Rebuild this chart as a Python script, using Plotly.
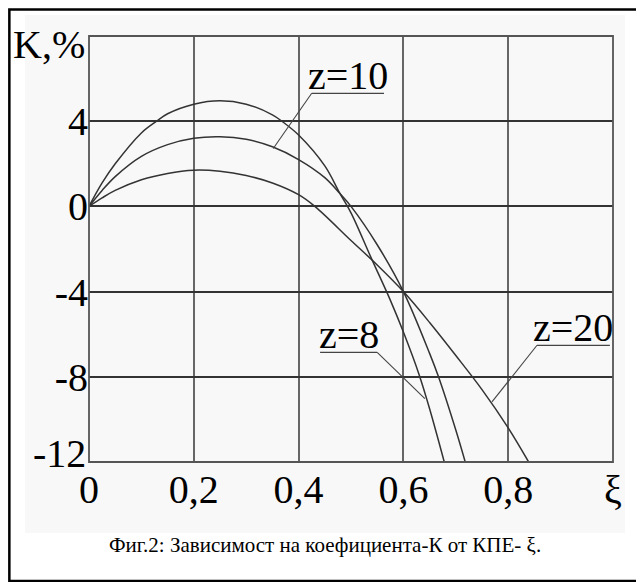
import plotly.graph_objects as go

# ---- data ----
xi_z8 = [0, 0.025, 0.05, 0.10, 0.129, 0.15, 0.20, 0.25, 0.30, 0.35, 0.368, 0.40, 0.45, 0.479, 0.50, 0.54, 0.575, 0.60, 0.63, 0.65, 0.678]
k_z8 = [0, 1.1, 2.0, 3.45, 4.0, 4.35, 4.8, 4.96, 4.8, 4.3, 4.0, 3.35, 1.9, 0.6, -0.3, -2.5, -4.4, -5.9, -7.9, -9.5, -12]

xi_z10 = [0, 0.025, 0.05, 0.10, 0.15, 0.20, 0.25, 0.30, 0.35, 0.40, 0.45, 0.479, 0.50, 0.55, 0.60, 0.65, 0.667, 0.70, 0.718]
k_z10 = [0, 0.75, 1.4, 2.35, 2.9, 3.2, 3.27, 3.15, 2.8, 2.2, 1.35, 0.6, 0.0, -1.8, -4.0, -6.9, -8.0, -10.5, -12]

xi_z20 = [0, 0.025, 0.05, 0.10, 0.15, 0.20, 0.25, 0.30, 0.35, 0.40, 0.431, 0.50, 0.55, 0.60, 0.65, 0.70, 0.75, 0.80, 0.839]
k_z20 = [0, 0.4, 0.75, 1.25, 1.55, 1.7, 1.65, 1.45, 1.1, 0.55, 0.0, -1.6, -2.75, -4.0, -5.45, -7.0, -8.6, -10.4, -12]

series_names = ["z=8", "z=10", "z=20"]

x_tickvals = [0, 0.2, 0.4, 0.6, 0.8, 1.0]
x_ticktext = ["0", "0,2", "0,4", "0,6", "0,8", "ξ"]
y_tickvals = [-12, -8, -4, 0, 4]
y_ticktext = ["-12", "-8", "-4", "0", "4"]
y_title = "K,%"
caption = "Фиг.2: Зависимост на коефициента-К от КПЕ- ξ."

FONT = "Liberation Serif"
BIG = 40
LINE = "#333333"

fig = go.Figure()
for xs, ks, nm in [(xi_z8, k_z8, series_names[0]), (xi_z10, k_z10, series_names[1]), (xi_z20, k_z20, series_names[2])]:
    fig.add_trace(go.Scatter(x=xs, y=ks, mode="lines", name=nm,
                             line=dict(color=LINE, width=1.5, shape="spline", smoothing=1.0),
                             showlegend=False, hoverinfo="skip"))

shapes = []
# faint background of the embedded picture and the outer frame
shapes.append(dict(type="rect", xref="paper", yref="paper", x0=-0.1221, x1=1.0229, y0=-0.1667, y1=1.0493,
                   fillcolor="#f8f8f8", line=dict(width=0), layer="below"))
shapes.append(dict(type="rect", xref="paper", yref="paper", x0=-0.1520, x1=1.0706, y0=-0.2793, y1=1.0625,
                   fillcolor="rgba(0,0,0,0)", line=dict(color="black", width=2.5), layer="above"))
# plot border
shapes.append(dict(type="rect", xref="paper", yref="paper", x0=0, x1=1, y0=0, y1=1,
                   line=dict(color="#555555", width=1.8), layer="above"))

# label underlines and leaders: (text, underline x0, x1, y, leader end x, y, leader side)
labels = [
    ("z=10", 0.425, 0.563, 5.31, 0.3516, 2.72, "left"),
    ("z=8", 0.441, 0.550, -6.85, 0.641, -9.02, "right"),
    ("z=20", 0.855, 0.994, -6.52, 0.769, -9.18, "left"),
]
annotations = []
for txt, ux0, ux1, uy, lx, ly, side in labels:
    shapes.append(dict(type="line", xref="x", yref="y", x0=ux0, x1=ux1, y0=uy, y1=uy,
                       line=dict(color="#444444", width=1.3)))
    sx = ux0 if side == "left" else ux1
    shapes.append(dict(type="line", xref="x", yref="y", x0=sx, x1=lx, y0=uy, y1=ly,
                       line=dict(color="#444444", width=1.1)))
    annotations.append(dict(text=txt, x=(ux0 + ux1) / 2, y=uy, xref="x", yref="y",
                            xanchor="center", yanchor="bottom", yshift=-7, showarrow=False,
                            font=dict(family=FONT, size=BIG, color="black")))

# lowest y tick label sits a little above its grid line in the reference
annotations.append(dict(text=y_ticktext[0], x=0, y=y_tickvals[0], xref="paper", yref="y",
                        xanchor="right", yanchor="middle", xshift=-1, yshift=9, showarrow=False,
                        font=dict(family=FONT, size=BIG, color="black")))
annotations.append(dict(text=y_title, xref="paper", yref="paper", x=-0.004, y=0.98,
                        xanchor="right", yanchor="middle", showarrow=False,
                        font=dict(family=FONT, size=BIG, color="black")))
annotations.append(dict(text=caption, xref="paper", yref="paper", x=0.45, y=-0.196,
                        xanchor="center", yanchor="middle", showarrow=False,
                        font=dict(family=FONT, size=21, color="black")))

# the page adds an 8 px body margin; the figure is sized so it fits the window
fig.update_layout(
    width=636, height=574,
    margin=dict(l=81, r=31, t=28, b=120),
    paper_bgcolor="white", plot_bgcolor="white",
    shapes=shapes, annotations=annotations,
    font=dict(family=FONT, color="black"),
)
fig.update_xaxes(range=[0, 1.0], tickvals=x_tickvals, ticktext=x_ticktext,
                 showgrid=True, gridcolor="#666666", gridwidth=1.5, zeroline=False,
                 showline=False, ticks="", tickfont=dict(family=FONT, size=BIG, color="black"),
                 ticklabelstandoff=0, automargin=False, fixedrange=True)
fig.update_yaxes(range=[-12, 8], tickvals=y_tickvals[1:], ticktext=y_ticktext[1:],
                 showgrid=True, gridcolor="#333333", gridwidth=1.6, zeroline=False,
                 showline=False, ticks="", tickfont=dict(family=FONT, size=BIG, color="black"),
                 ticklabelstandoff=0, automargin=False, fixedrange=True)

fig.write_html("out.html")
